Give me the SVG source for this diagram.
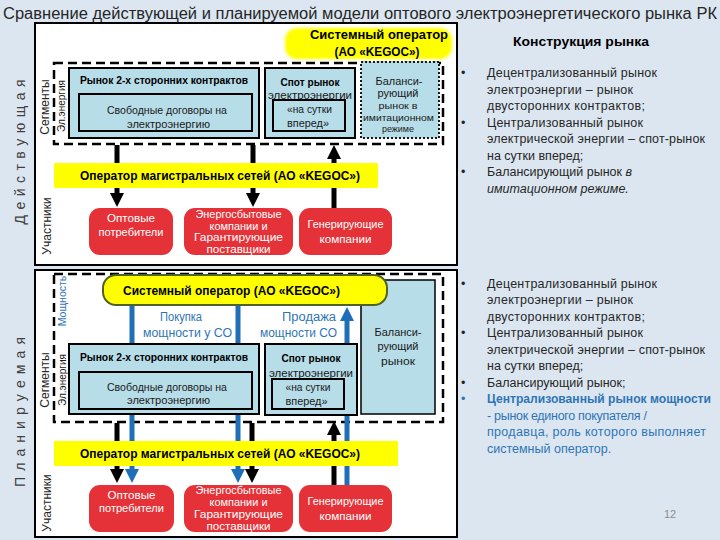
<svg xmlns="http://www.w3.org/2000/svg" width="720" height="540" viewBox="0 0 720 540">
<defs>
<style>
text{font-family:"Liberation Sans","DejaVu Sans",sans-serif;}
.panel{fill:#ffffff;stroke:#000;stroke-width:2;}
.dash{fill:none;stroke:#000;stroke-width:2.5;stroke-dasharray:9 5;}
.box{fill:#b7dde8;stroke:#000;stroke-width:2;}
.dot{fill:#b7dde8;stroke:#1a1a1a;stroke-width:2;stroke-dasharray:2 2;}
.red{fill:#e53238;}
.yel{fill:#ffff00;}
.t{font-size:10.5px;fill:#1a1a1a;text-anchor:middle;}
.tb{font-size:10.5px;fill:#000;font-weight:bold;text-anchor:middle;}
.tw{font-size:10.5px;fill:#ffffff;text-anchor:middle;}
.ty{font-size:12px;fill:#000;font-weight:bold;}
.side{font-size:12px;fill:#262626;text-anchor:middle;}
.big{font-size:14px;fill:#404040;text-anchor:middle;}
.r{font-size:12.5px;fill:#262626;}
.rb{font-size:12.5px;fill:#2e75b6;}
.blue{font-size:12px;fill:#2e75b6;}
.ab{stroke:#000;stroke-width:5;fill:none;}
.bl{stroke:#1f6fb8;stroke-width:5;fill:none;}
</style>
<marker id="hb" markerUnits="userSpaceOnUse" markerWidth="14" markerHeight="14" viewBox="0 0 14 14" refX="1" refY="7" orient="auto"><path d="M0,0 L14,7 L0,14 z" fill="#000"/></marker>
<marker id="hu" markerUnits="userSpaceOnUse" markerWidth="14" markerHeight="14" viewBox="0 0 14 14" refX="1" refY="7" orient="auto"><path d="M0,0 L14,7 L0,14 z" fill="#1f6fb8"/></marker>
<filter id="soft" x="-10%" y="-30%" width="120%" height="160%"><feGaussianBlur stdDeviation="1.5"/></filter>
</defs>
<rect x="0" y="0" width="720" height="540" fill="#dce6f1"/>
<text x="3" y="19" font-size="16" fill="#262626" textLength="714" lengthAdjust="spacingAndGlyphs">Сравнение действующей и планируемой модели оптового электроэнергетического рынка РК</text>

<!-- panels -->
<rect class="panel" x="35" y="23" width="422" height="242"/>
<rect class="panel" x="35" y="270" width="422" height="267"/>

<!-- left labels -->
<text class="big" transform="translate(25,152) rotate(-90)" textLength="145">Д е й с т в у ю щ а я</text>
<text class="big" transform="translate(25,412) rotate(-90)" textLength="150">П л а н и р у е м а я</text>
<text class="side" transform="translate(49,107) rotate(-90)">Сегменты</text>
<text class="t" transform="translate(65,106) rotate(-90)" style="font-size:10px">Эл.энергия</text>
<text class="side" transform="translate(51,226) rotate(-90)">Участники</text>
<text class="t" transform="translate(66,301) rotate(-90)" style="font-size:10.5px;fill:#2e75b6">Мощность</text>
<text class="side" transform="translate(49,380) rotate(-90)">Сегменты</text>
<text class="t" transform="translate(66,380) rotate(-90)" style="font-size:10px">Эл.энергия</text>
<text class="side" transform="translate(51,503) rotate(-90)">Участники</text>

<!-- segment dashed frames -->
<rect class="dash" x="54" y="63" width="389" height="81"/>
<rect class="dash" x="54" y="274" width="389" height="148"/>

<!-- connectors -->
<g id="connectors">
<path class="ab" d="M117,145 L117,194" marker-end="url(#hb)"/>
<path class="ab" d="M253,145 L253,194" marker-end="url(#hb)"/>
<path class="ab" d="M334,208 L334,158" marker-end="url(#hb)"/>
<path class="bl" d="M132,305 L132,470" marker-end="url(#hu)"/>
<path class="bl" d="M238,305 L238,470" marker-end="url(#hu)"/>
<path class="bl" d="M347,485 L347,320" marker-end="url(#hu)"/>
<path class="ab" d="M117,423 L117,470" marker-end="url(#hb)"/>
<path class="ab" d="M252,423 L252,470" marker-end="url(#hb)"/>
<path class="ab" d="M334,485 L334,434" marker-end="url(#hb)"/>
</g>

<!-- TOP PANEL NODES -->
<g id="so-top">
<rect x="285" y="28" width="167" height="31" rx="12" fill="#ffff00" filter="url(#soft)"/>
<rect x="287" y="30" width="163" height="27" rx="11" fill="#ffff00"/>
<text class="ty" x="379" y="39" text-anchor="middle" textLength="138" lengthAdjust="spacingAndGlyphs">Системный оператор</text>
<text class="ty" x="377" y="56" text-anchor="middle" textLength="85" lengthAdjust="spacingAndGlyphs">(АО «KEGOC»)</text>
</g>
<g id="bilateral-top">
<rect class="box" x="69" y="68" width="190" height="70"/>
<text class="tb" x="164" y="84" textLength="168" lengthAdjust="spacingAndGlyphs">Рынок 2-х сторонних контрактов</text>
<rect class="box" x="79" y="94" width="173" height="37"/>
<text class="t" x="167" y="113.5" textLength="120" lengthAdjust="spacingAndGlyphs">Свободные договоры на</text>
<text class="t" x="168.5" y="127.5" textLength="83" lengthAdjust="spacingAndGlyphs">электроэнергию</text>
</g>
<g id="spot-top">
<rect class="box" x="265" y="68" width="90" height="70"/>
<text class="tb" x="310" y="86" textLength="59" lengthAdjust="spacingAndGlyphs">Спот рынок</text>
<text class="t" x="310" y="99" textLength="84" lengthAdjust="spacingAndGlyphs">электроэнергии</text>
<rect class="box" x="273" y="100" width="72" height="31"/>
<text class="t" x="309.5" y="112.5" textLength="45" lengthAdjust="spacingAndGlyphs">«на сутки</text>
<text class="t" x="308" y="127" textLength="42" lengthAdjust="spacingAndGlyphs">вперед»</text>
</g>
<g id="balancing-top">
<rect class="dot" x="361" y="62" width="78" height="76"/>
<text class="t" x="399" y="84.5" textLength="47" lengthAdjust="spacingAndGlyphs">Баланси-</text>
<text class="t" x="398" y="96.5" textLength="41" lengthAdjust="spacingAndGlyphs">рующий</text>
<text class="t" x="398" y="108.5" style="font-size:9.5px" textLength="39" lengthAdjust="spacingAndGlyphs">рынок в</text>
<text class="t" x="398.5" y="120.5" style="font-size:9.5px" textLength="71" lengthAdjust="spacingAndGlyphs">имитационном</text>
<text class="t" x="398" y="131.5" style="font-size:9.5px" textLength="32" lengthAdjust="spacingAndGlyphs">режиме</text>
</g>
<g id="tso-top">
<rect class="yel" x="54" y="163" width="324" height="25"/>
<text class="ty" x="80" y="180" textLength="280" lengthAdjust="spacingAndGlyphs">Оператор магистральных сетей (АО «KEGOC»)</text>
</g>
<g id="consumers-top">
<rect class="red" x="89" y="208" width="84" height="47" rx="11"/>
<text class="tw" x="131" y="222" textLength="48" lengthAdjust="spacingAndGlyphs">Оптовые</text>
<text class="tw" x="131" y="236" textLength="65" lengthAdjust="spacingAndGlyphs">потребители</text>
</g>
<g id="suppliers-top">
<rect class="red" x="184" y="208" width="109" height="47" rx="11"/>
<text class="tw" x="238.5" y="218" textLength="86" lengthAdjust="spacingAndGlyphs">Энергосбытовые</text>
<text class="tw" x="238.5" y="229.5" textLength="58" lengthAdjust="spacingAndGlyphs">компании и</text>
<text class="tw" x="238.5" y="241" textLength="89" lengthAdjust="spacingAndGlyphs">Гарантирующие</text>
<text class="tw" x="238.5" y="252.5" textLength="64" lengthAdjust="spacingAndGlyphs">поставщики</text>
</g>
<g id="generators-top">
<rect class="red" x="299" y="208" width="93" height="47" rx="11"/>
<text class="tw" x="345.5" y="228" textLength="76" lengthAdjust="spacingAndGlyphs">Генерирующие</text>
<text class="tw" x="345.5" y="243" textLength="52" lengthAdjust="spacingAndGlyphs">компании</text>
</g>

<!-- BOTTOM PANEL NODES -->
<g id="balancing-bottom">
<rect class="box" x="361" y="280" width="74" height="134" style="stroke-width:1.5"/>
<text class="t" x="398" y="336" textLength="47" lengthAdjust="spacingAndGlyphs">Баланси-</text>
<text class="t" x="398" y="350" textLength="41" lengthAdjust="spacingAndGlyphs">рующий</text>
<text class="t" x="398" y="365" textLength="34" lengthAdjust="spacingAndGlyphs">рынок</text>
</g>
<g id="so-bottom">
<rect x="103" y="275" width="284" height="30" rx="13" fill="#ffff00" stroke="#4f6228" stroke-width="2"/>
<text class="ty" x="231.5" y="295" text-anchor="middle" textLength="217" lengthAdjust="spacingAndGlyphs">Системный оператор (АО «KEGOC»)</text>
</g>
<g id="capacity-labels">
<text class="blue" x="181" y="321" text-anchor="middle" textLength="42" lengthAdjust="spacingAndGlyphs">Покупка</text>
<text class="blue" x="187.5" y="337" text-anchor="middle" textLength="89" lengthAdjust="spacingAndGlyphs">мощности у СО</text>
<text class="blue" x="336" y="321" text-anchor="end" textLength="54" lengthAdjust="spacingAndGlyphs">Продажа</text>
<text class="blue" x="337" y="337" text-anchor="end" textLength="77" lengthAdjust="spacingAndGlyphs">мощности СО</text>
</g>
<g id="bilateral-bottom">
<rect class="box" x="69" y="344" width="190" height="70"/>
<text class="tb" x="164" y="361" textLength="168" lengthAdjust="spacingAndGlyphs">Рынок 2-х сторонних контрактов</text>
<rect class="box" x="79" y="372" width="173" height="37"/>
<text class="t" x="167" y="391" textLength="120" lengthAdjust="spacingAndGlyphs">Свободные договоры на</text>
<text class="t" x="168.5" y="404" textLength="83" lengthAdjust="spacingAndGlyphs">электроэнергию</text>
</g>
<g id="spot-bottom">
<rect class="box" x="265" y="344" width="92" height="71"/>
<text class="tb" x="311" y="362" textLength="59" lengthAdjust="spacingAndGlyphs">Спот рынок</text>
<text class="t" x="311" y="377" textLength="84" lengthAdjust="spacingAndGlyphs">электроэнергии</text>
<rect class="box" x="272" y="379" width="72" height="30"/>
<text class="t" x="308" y="390.5" textLength="45" lengthAdjust="spacingAndGlyphs">«на сутки</text>
<text class="t" x="306.5" y="404.5" textLength="42" lengthAdjust="spacingAndGlyphs">вперед»</text>
</g>
<g id="tso-bottom">
<rect class="yel" x="54" y="441" width="344" height="25"/>
<text class="ty" x="80" y="457.5" textLength="280" lengthAdjust="spacingAndGlyphs">Оператор магистральных сетей (АО «KEGOC»)</text>
</g>
<g id="consumers-bottom">
<rect class="red" x="89" y="485" width="85" height="47" rx="11"/>
<text class="tw" x="131.5" y="499" textLength="48" lengthAdjust="spacingAndGlyphs">Оптовые</text>
<text class="tw" x="131.5" y="512" textLength="65" lengthAdjust="spacingAndGlyphs">потребители</text>
</g>
<g id="suppliers-bottom">
<rect class="red" x="184" y="485" width="109" height="47" rx="11"/>
<text class="tw" x="238.5" y="494" textLength="86" lengthAdjust="spacingAndGlyphs">Энергосбытовые</text>
<text class="tw" x="238.5" y="505.5" textLength="58" lengthAdjust="spacingAndGlyphs">компании и</text>
<text class="tw" x="238.5" y="517.5" textLength="89" lengthAdjust="spacingAndGlyphs">Гарантирующие</text>
<text class="tw" x="238.5" y="529.5" textLength="64" lengthAdjust="spacingAndGlyphs">поставщики</text>
</g>
<g id="generators-bottom">
<rect class="red" x="299" y="485" width="93" height="47" rx="11"/>
<text class="tw" x="345.5" y="505" textLength="76" lengthAdjust="spacingAndGlyphs">Генерирующие</text>
<text class="tw" x="345.5" y="520" textLength="52" lengthAdjust="spacingAndGlyphs">компании</text>
</g>

<!-- RIGHT TEXT -->
<g id="market-design">
<text x="581" y="46" font-size="13.5" font-weight="bold" fill="#000" text-anchor="middle" textLength="136" lengthAdjust="spacingAndGlyphs">Конструкция рынка</text>
<g class="r">
<text x="461" y="77">•</text>
<text x="487" y="77" textLength="170" lengthAdjust="spacing">Децентрализованный рынок</text>
<text x="487" y="93.5" textLength="146" lengthAdjust="spacing">электроэнергии – рынок</text>
<text x="487" y="110" textLength="158" lengthAdjust="spacing">двусторонних контрактов;</text>
<text x="461" y="126.5">•</text>
<text x="487" y="126.5" textLength="156" lengthAdjust="spacing">Централизованный рынок</text>
<text x="487" y="143" textLength="218" lengthAdjust="spacing">электрической энергии – спот-рынок</text>
<text x="487" y="159.5">на сутки вперед;</text>
<text x="461" y="176">•</text>
<text x="487" y="176">Балансирующий рынок <tspan font-style="italic">в</tspan></text>
<text x="487" y="192.5" font-style="italic">имитационном режиме.</text>
</g>
<g class="r">
<text x="461" y="287.5">•</text>
<text x="487" y="287.5" textLength="170" lengthAdjust="spacing">Децентрализованный рынок</text>
<text x="487" y="304" textLength="146" lengthAdjust="spacing">электроэнергии – рынок</text>
<text x="487" y="320.5" textLength="158" lengthAdjust="spacing">двусторонних контрактов;</text>
<text x="461" y="337">•</text>
<text x="487" y="337" textLength="156" lengthAdjust="spacing">Централизованный рынок</text>
<text x="487" y="353.5" textLength="218" lengthAdjust="spacing">электрической энергии – спот-рынок</text>
<text x="487" y="370">на сутки вперед;</text>
<text x="461" y="386.5">•</text>
<text x="487" y="386.5">Балансирующий рынок;</text>
</g>
<g class="rb">
<text x="461" y="403">•</text>
<text x="487" y="403" font-weight="bold" textLength="224" lengthAdjust="spacingAndGlyphs">Централизованный рынок мощности</text>
<text x="487" y="419.5" textLength="160" lengthAdjust="spacing">- рынок единого покупателя /</text>
<text x="487" y="436" textLength="219" lengthAdjust="spacing">продавца,  роль которого выполняет</text>
<text x="487" y="452.5">системный оператор.</text>
</g>
<text x="670" y="518" font-size="11" fill="#8c8c8c" text-anchor="middle">12</text>
</g>
</svg>
